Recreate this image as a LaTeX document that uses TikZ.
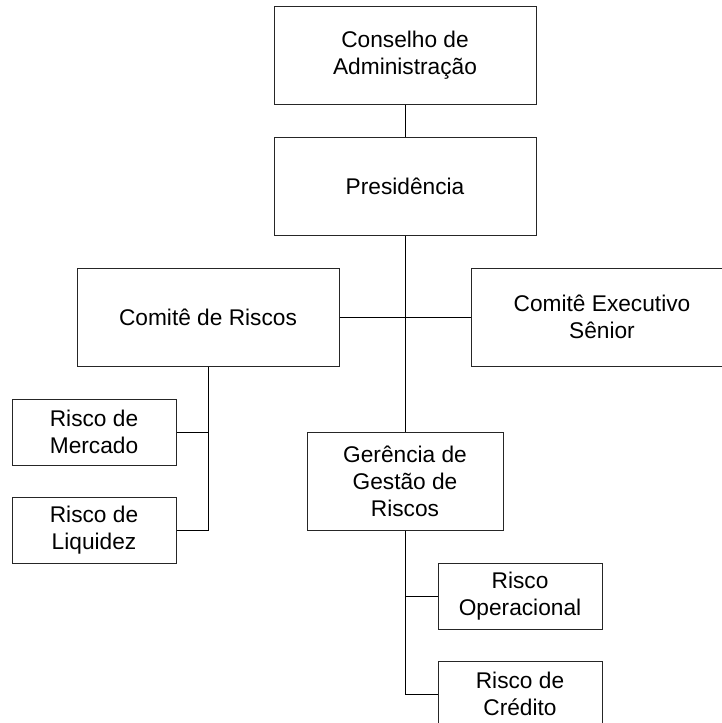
\documentclass[tikz,border=0pt]{standalone}
\usepackage{fontspec}
\setmainfont{Liberation Sans}
\begin{document}
\begin{tikzpicture}[x=1pt,y=-1pt,
  box/.style={draw=black!85, line width=1pt, align=center, inner sep=0pt,
    font=\fontsize{22.7}{27}\selectfont},
  bigbox/.style={box, minimum width=262pt, minimum height=98pt},
  midbox/.style={box, minimum width=196pt, minimum height=98pt},
  smallbox/.style={box, minimum width=164pt, minimum height=66pt},
  conn/.style={line width=1pt, draw=black}]
\useasboundingbox (0,0) rectangle (722,723);
\clip (0,0) rectangle (722,723);
\node[bigbox] (cons) at (405,55) {Conselho de\\Administração};
\node[bigbox] (pres) at (405,186) {Presidência};
\node[bigbox] (cr) at (208,317) {Comitê de Riscos};
\node[bigbox] (ces) at (602,317) {Comitê Executivo\\Sênior};
\node[smallbox] (merc) at (94,432) {Risco de\\Mercado};
\node[smallbox] (liq) at (94,530) {Risco de\\Liquidez};
\node[midbox] (ger) at (405,481) {Gerência de\\Gestão de\\Riscos};
\node[smallbox] (op) at (520,596) {Risco\\Operacional};
\node[smallbox] (cred) at (520,694) {Risco de\\Crédito};
\draw[conn] (cons) -- (pres);
\draw[conn] (pres.south) -- (ger.north);
\draw[conn] (cr.east) -- (ces.west);
\draw[conn] (cr.south) |- (merc.east);
\draw[conn] (cr.south) |- (liq.east);
\draw[conn] (ger.south) |- (op.west);
\draw[conn] (ger.south) |- (cred.west);
\end{tikzpicture}
\end{document}
